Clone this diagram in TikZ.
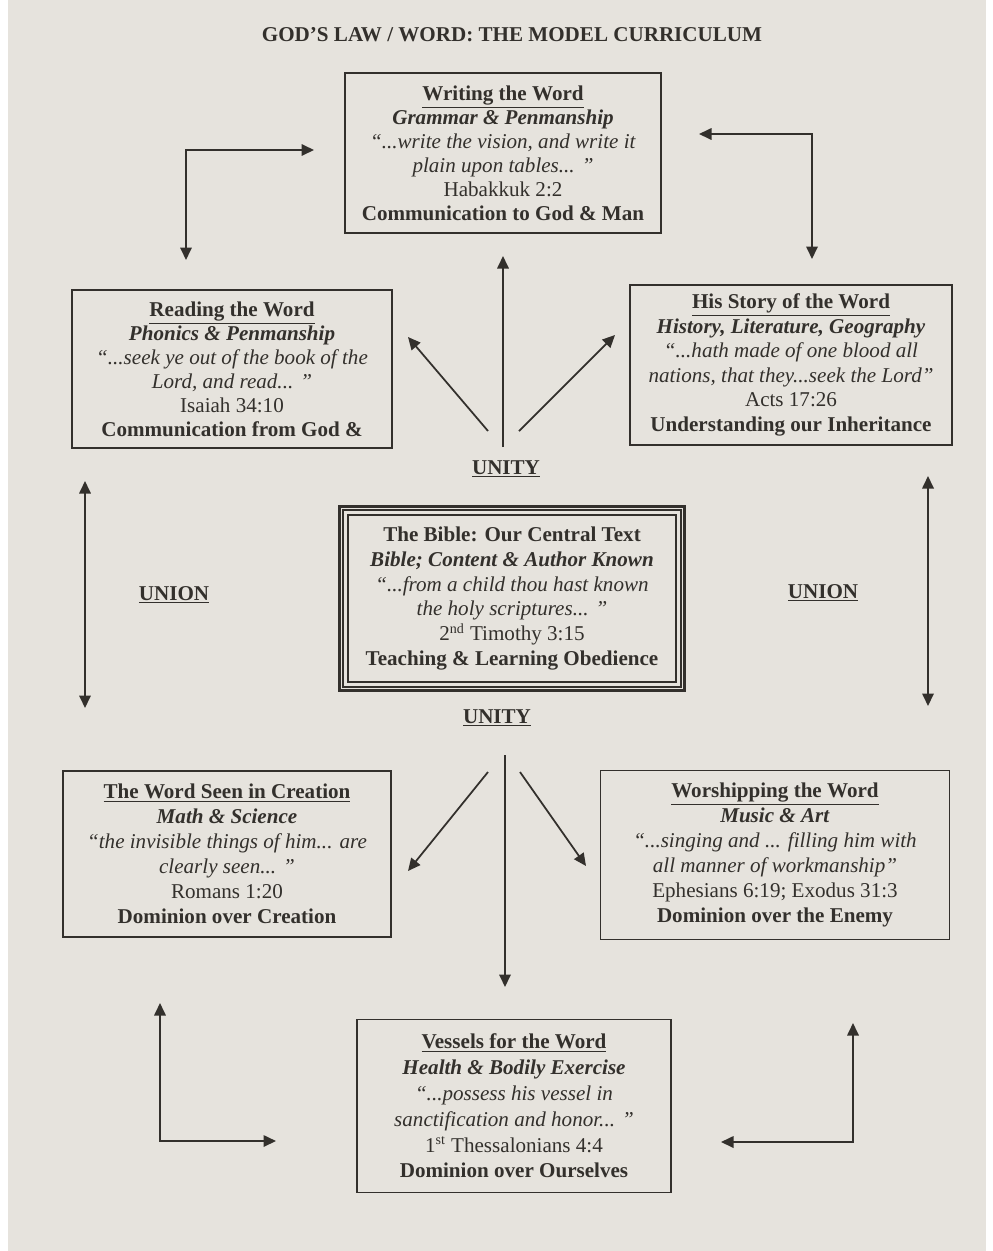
\documentclass[tikz,border=0pt]{standalone}
\usepackage{fontspec}
\setmainfont{Liberation Serif}
\usetikzlibrary{positioning,arrows.meta}
\definecolor{paper}{HTML}{E6E3DD}
\definecolor{ink}{HTML}{33302C}
\tikzset{
	every path/.style = {line width=0.9pt},
	flow/.style = {draw=ink, line width=1pt, -{Triangle[length=2.5mm,width=2.3mm]}},
	twoway/.style = {draw=ink, line width=1pt, {Triangle[length=2.5mm,width=2.3mm]}-{Triangle[length=2.5mm,width=2.3mm]}},
	subject/.style = {draw=ink, text=ink, align=center, inner sep=0pt, font=\fontsize{12}{13.7}\selectfont},
	tag/.style = {text=ink, font=\bfseries\fontsize{12}{14}\selectfont}
}

\begin{document}
\begin{tikzpicture}[x=0.02cm, y=-0.02cm]
	% page
	\fill[white] (0,0) rectangle (992,1251);
	\fill[paper] (8,0) rectangle (986,1251);
	\node[text=ink, font=\bfseries\fontsize{12}{14}\selectfont] (title) at (512,35) {GOD'S LAW / WORD: THE MODEL CURRICULUM};

	% central text
	\node[subject, font=\fontsize{12}{14.2}\selectfont, minimum width=6.56cm, minimum height=3.34cm] (bible) at (512,598.5) {\textbf{The Bible: Our Central Text}\\ \textbf{\textit{Bible; Content \& Author Known}}\\ \textit{``...from a child thou hast known}\\ \textit{the holy scriptures... ''}\\ 2\textsuperscript{nd} Timothy 3:15\\ \textbf{Teaching \& Learning Obedience}};
	\draw[ink] ([shift={(-4,-4)}]bible.north west) rectangle ([shift={(4,4)}]bible.south east);
	\draw[ink, line width=1.5pt] ([shift={(-8,-8)}]bible.north west) rectangle ([shift={(8,8)}]bible.south east);

	% the six subjects
	\node[subject, minimum width=6.32cm, minimum height=3.2cm] (writing) at (503,153) {\underline{\textbf{Writing the Word}}\\ \textbf{\textit{Grammar \& Penmanship}}\\ \textit{``...write the vision, and write it}\\ \textit{plain upon tables... ''}\\ Habakkuk 2:2\\ \textbf{Communication to God \& Man}};
	\node[subject, minimum width=6.4cm, minimum height=3.16cm] (reading) at (232,369) {\underline{\textbf{Reading the Word}}\\ \textbf{\textit{Phonics \& Penmanship}}\\ \textit{``...seek ye out of the book of the}\\ \textit{Lord, and read... ''}\\ Isaiah 34:10\\ \textbf{Communication from God \&}};
	\node[subject, font=\fontsize{12}{14}\selectfont, minimum width=6.44cm, minimum height=3.2cm] (story) at (791,365) {\underline{\textbf{His Story of the Word}}\\ \textbf{\textit{History, Literature, Geography}}\\ \textit{``...hath made of one blood all}\\ \textit{nations, that they...seek the Lord''}\\ Acts 17:26\\ \textbf{Understanding our Inheritance}};
	\node[subject, font=\fontsize{12}{14.2}\selectfont, minimum width=6.56cm, minimum height=3.32cm] (creation) at (227,854) {\underline{\textbf{The Word Seen in Creation}}\\ \textbf{\textit{Math \& Science}}\\ \textit{``the invisible things of him... are}\\ \textit{clearly seen... ''}\\ Romans 1:20\\ \textbf{Dominion over Creation}};
	\node[subject, font=\fontsize{12}{14.2}\selectfont, minimum width=6.98cm, minimum height=3.38cm] (worship) at (775,855) {\underline{\textbf{Worshipping the Word}}\\ \textbf{\textit{Music \& Art}}\\ \textit{``...singing and ... filling him with}\\ \textit{all manner of workmanship''}\\ Ephesians 6:19; Exodus 31:3\\ \textbf{Dominion over the Enemy}};
	\node[subject, font=\fontsize{12}{14.7}\selectfont, minimum width=6.28cm, minimum height=3.46cm] (vessels) at (514,1106) {\underline{\textbf{Vessels for the Word}}\\ \textbf{\textit{Health \& Bodily Exercise}}\\ \textit{``...possess his vessel in}\\ \textit{sanctification and honor... ''}\\ 1\textsuperscript{st} Thessalonians 4:4\\ \textbf{Dominion over Ourselves}};

	% labels
	\node[tag] (unityA) at (506,469) {\underline{UNITY}};
	\node[tag] (unityB) at (497,718) {\underline{UNITY}};
	\node[tag] (unionL) at (174,595) {\underline{UNION}};
	\node[tag] (unionR) at (823,593) {\underline{UNION}};

	% arrow ends
	\coordinate (upL0) at (488,431);   \coordinate (upL) at (408,337);
	\coordinate (upM0) at (503,447);   \coordinate (upM) at (503,256);
	\coordinate (upR0) at (519,431);   \coordinate (upR) at (615,335);
	\coordinate (dnL0) at (488,772);   \coordinate (dnL) at (408,871);
	\coordinate (dnM0) at (505,755);   \coordinate (dnM) at (505,987);
	\coordinate (dnR0) at (520,772);   \coordinate (dnR) at (586,866);
	\coordinate (tlA) at (186,260);    \coordinate (tlB) at (314,150);
	\coordinate (trA) at (699,134);    \coordinate (trB) at (812,259);
	\coordinate (blA) at (160,1003);   \coordinate (blB) at (276,1141);
	\coordinate (brA) at (721,1142);   \coordinate (brB) at (853,1023);
	\coordinate (lvA) at (85,481);     \coordinate (lvB) at (85,708);
	\coordinate (rvA) at (928,476);    \coordinate (rvB) at (928,706);

	\draw[flow] (upL0) -- (upL);
	\draw[flow] (upM0) -- (upM);
	\draw[flow] (upR0) -- (upR);
	\draw[flow] (dnL0) -- (dnL);
	\draw[flow] (dnM0) -- (dnM);
	\draw[flow] (dnR0) -- (dnR);

	\draw[twoway] (tlA) |- (tlB);
	\draw[twoway] (trA) -| (trB);
	\draw[twoway] (blA) |- (blB);
	\draw[twoway] (brA) -| (brB);
	\draw[twoway] (lvA) -- (lvB);
	\draw[twoway] (rvA) -- (rvB);
\end{tikzpicture}
\end{document}
